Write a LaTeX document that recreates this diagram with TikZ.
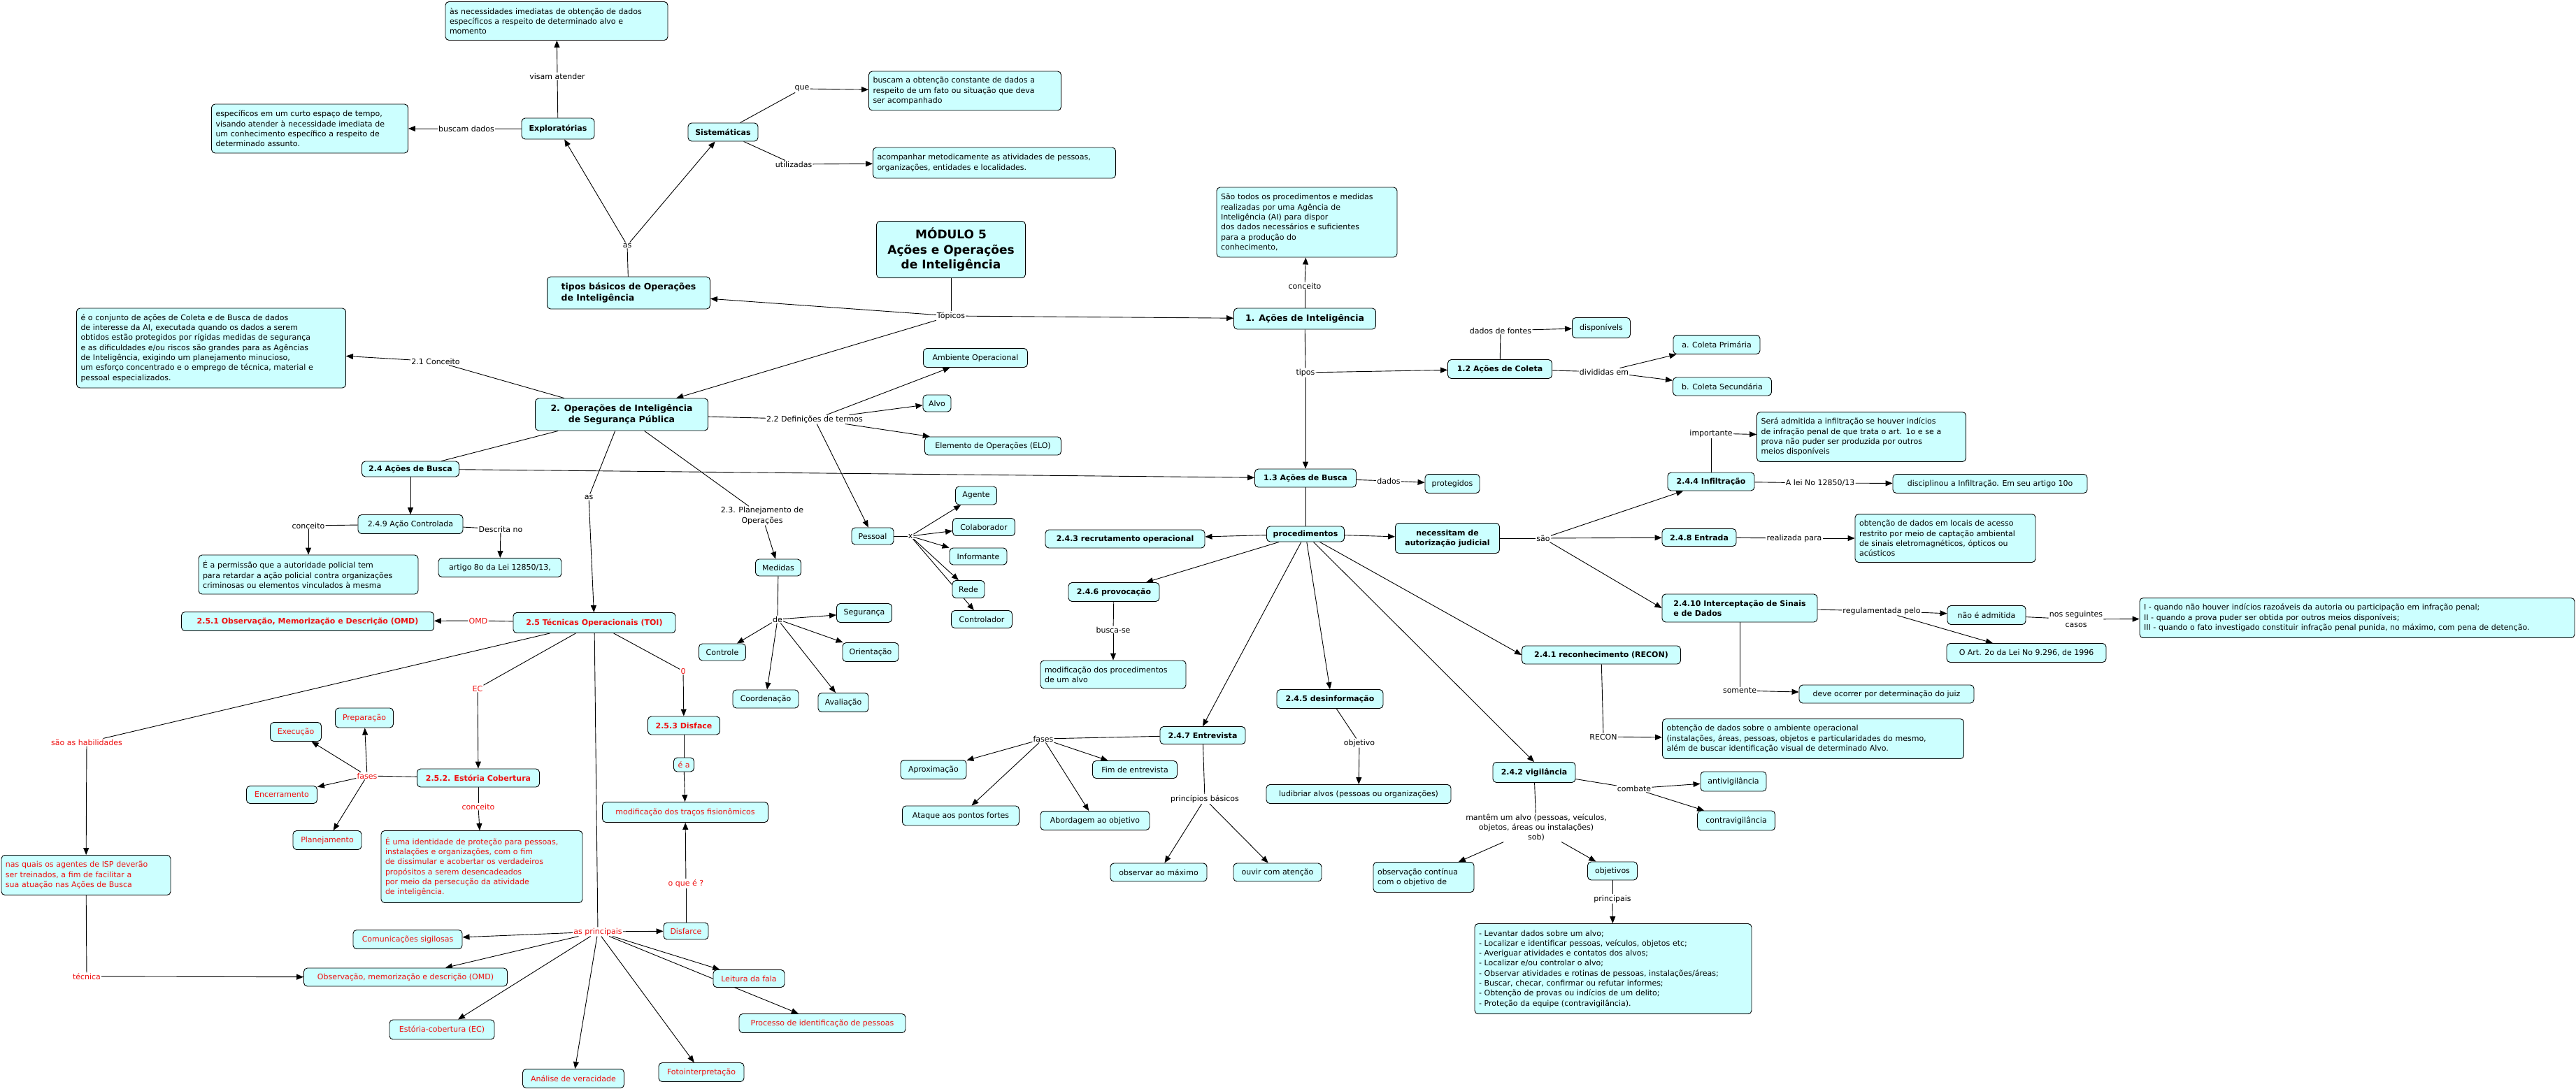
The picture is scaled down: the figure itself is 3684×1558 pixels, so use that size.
\documentclass[tikz,border=0pt]{standalone}
\usepackage{fontspec}
\setmainfont{DejaVu Sans}
\usepackage{xcolor}
\usepackage{tikz}
\usetikzlibrary{arrows.meta,positioning,backgrounds}
\definecolor{nodefill}{HTML}{CCFFFF}
\definecolor{redtxt}{HTML}{EE1111}
\newcommand{\fsn}{\fontsize{11}{14.3}\selectfont}
\newcommand{\fsb}{\fontsize{11}{14}\selectfont\bfseries}
\newcommand{\fsbig}{\fontsize{12.5}{15.5}\selectfont\bfseries}
\newcommand{\fstitle}{\fontsize{17}{21.5}\selectfont\bfseries}

\begin{document}
\begin{tikzpicture}[
  x=1pt, y=-1pt,
  box/.style={draw, rounded corners=5pt, fill=nodefill, line width=0.9pt, inner xsep=6pt, inner ysep=3pt, font=\fsn, align=left},
  bbox/.style={box, font=\fsb},
  bigbox/.style={box, font=\fsbig},
  ttl/.style={box, font=\fstitle, align=center},
  rbox/.style={box, text=redtxt},
  rbbox/.style={bbox, text=redtxt},
  lbl/.style={fill=white, inner sep=1pt, font=\fsn, align=center},
  rlbl/.style={lbl, text=redtxt},
  arr/.style={-{Triangle[length=10pt,width=8pt]}, line width=0.9pt},
  ln/.style={line width=0.9pt}
]
  \useasboundingbox (0,0) rectangle (3684,1558);

  \node[ttl, minimum width=213pt, minimum height=81pt] (mod) at (1360,357) {MÓDULO 5\\Ações e Operações\\de Inteligência};
  \node[lbl] (top) at (1360,452) {Tópicos};

  \node[bigbox, minimum width=233pt, minimum height=46pt] (tb) at (899,419) {tipos básicos de Operações\\de Inteligência};
  \node[lbl] (as1) at (897,351) {as};
  \node[bbox, minimum width=104pt, minimum height=30pt] (exp) at (798,184) {Exploratórias};
  \node[lbl] (visam) at (797,109) {visam atender};
  \node[box, text width=306pt, minimum height=55pt] (need) at (796,30) {às necessidades imediatas de obtenção de dados\\específicos a respeito de determinado alvo e\\momento};
  \node[lbl] (bdados) at (667,184) {buscam dados};
  \node[box, text width=269pt, minimum height=70pt] (curto) at (443,184) {específicos em um curto espaço de tempo,\\visando atender à necessidade imediata de\\um conhecimento específico a respeito de\\determinado assunto.};
  \node[bbox, minimum width=100pt, minimum height=26pt] (sis) at (1034,189) {Sistemáticas};
  \node[lbl] (que) at (1147,127) {que};
  \node[box, text width=263pt, minimum height=56pt] (const) at (1380,130) {buscam a obtenção constante de dados a\\ respeito de um fato ou situação que deva\\ser acompanhado};
  \node[lbl] (util) at (1135,235) {utilizadas};
  \node[box, text width=335pt, minimum height=44pt] (metod) at (1422,233) {acompanhar metodicamente as atividades de pessoas,\\ organizações, entidades e localidades.};

  \node[bigbox, minimum width=203pt, minimum height=30pt] (ai1) at (1866,456) {1. Ações de Inteligência};
  \node[lbl] (conc1) at (1866,409) {conceito};
  \node[box, text width=246pt, minimum height=100pt] (todos) at (1869,318) {São todos os procedimentos e medidas\\realizadas por uma Agência de\\ Inteligência (AI) para dispor\\dos dados necessários e suficientes\\para a produção do\\conhecimento,};
  \node[lbl] (tipos) at (1867,533) {tipos};
  \node[bbox, minimum width=149pt, minimum height=27pt] (ac12) at (2145,528) {1.2 Ações de Coleta};
  \node[lbl] (fontes) at (2146,473) {dados de fontes};
  \node[box, minimum width=83pt, minimum height=29pt] (disp) at (2290,469) {disponívels};
  \node[lbl] (divid) at (2294,532) {divididas em};
  \node[box, minimum width=124pt, minimum height=27pt] (prim) at (2455,493) {a. Coleta Primária};
  \node[box, minimum width=141pt, minimum height=26pt] (sec) at (2463,553) {b. Coleta Secundária};
  \node[bbox, minimum width=145pt, minimum height=26pt] (ab13) at (1867,684) {1.3 Ações de Busca};
  \node[lbl] (dados) at (1986,688) {dados};
  \node[box, minimum width=78pt, minimum height=27pt] (prot) at (2077,692) {protegidos};
  \node[bbox, minimum width=111pt, minimum height=22pt] (proc) at (1867,764) {procedimentos};
  \node[bbox, minimum width=149pt, minimum height=43pt, align=center] (nec) at (2070,770) {necessitam de\\autorização judicial};
  \node[lbl] (sao) at (2207,770) {são};
  \node[bbox, minimum width=124pt, minimum height=26pt] (inf) at (2447,689) {2.4.4 Infiltração};
  \node[lbl] (imp) at (2447,620) {importante};
  \node[box, text width=287pt, minimum height=71pt] (sera) at (2662,625) {Será admitida a infiltração se houver indícios\\de infração penal de que trata o art. 1o e se a\\prova não puder ser produzida por outros\\meios disponíveis};
  \node[lbl] (lei) at (2603,691) {A lei No 12850/13};
  \node[box, minimum width=278pt, minimum height=27pt] (disc) at (2846,692) {disciplinou a Infiltração. Em seu artigo 10o};
  \node[bbox, minimum width=106pt, minimum height=25pt] (ent) at (2430,769) {2.4.8 Entrada};
  \node[lbl] (realiz) at (2566,770) {realizada para};
  \node[box, text width=246pt, minimum height=69pt] (capt) at (2782,770) {obtenção de dados em locais de acesso\\restrito por meio de captação ambiental\\de sinais eletromagnéticos, ópticos ou\\ acústicos};
  \node[bbox, minimum width=222pt, minimum height=40pt] (icp) at (2488,870) {2.4.10 Interceptação de Sinais\\e de Dados};
  \node[lbl] (regul) at (2691,874) {regulamentada pelo};
  \node[box, minimum width=112pt, minimum height=27pt] (nadm) at (2841,880) {não é admitida};
  \node[lbl] (casos) at (2969,886) {nos seguintes\\casos};
  \node[box, text width=610pt, minimum height=57pt] (incisos) at (3371,884) {I - quando não houver indícios razoáveis da autoria ou participação em infração penal;\\II - quando a prova puder ser obtida por outros meios disponíveis;\\III - quando o fato investigado constituir infração penal punida, no máximo, com pena de detenção.};
  \node[box, minimum width=228pt, minimum height=27pt] (art2) at (2898,934) {O Art. 2o da Lei No 9.296, de 1996};
  \node[lbl] (som) at (2488,988) {somente};
  \node[box, minimum width=250pt, minimum height=26pt] (juiz) at (2698,993) {deve ocorrer por determinação do juiz};
  \node[bbox, minimum width=227pt, minimum height=26pt] (recon) at (2290,937) {2.4.1 reconhecimento (RECON)};
  \node[lbl] (lrecon) at (2293,1054) {RECON};
  \node[box, text width=419pt, minimum height=57pt] (amb) at (2593,1057) {obtenção de dados sobre o ambiente operacional\\ (instalações, áreas, pessoas, objetos e particularidades do mesmo,\\além de buscar identificação visual de determinado Alvo.};
  \node[bbox, minimum width=152pt, minimum height=27pt] (desinf) at (1902,1000) {2.4.5 desinformação};
  \node[lbl] (objt) at (1944,1063) {objetivo};
  \node[box, minimum width=264pt, minimum height=27pt] (ludib) at (1943,1136) {ludibriar alvos (pessoas ou organizações)};
  \node[bbox, minimum width=118pt, minimum height=29pt] (vig) at (2194,1105) {2.4.2 vigilância};
  \node[lbl] (comb) at (2337,1128) {combate};
  \node[box, minimum width=94pt, minimum height=28pt] (antiv) at (2479,1118) {antivigilância};
  \node[box, minimum width=111pt, minimum height=28pt] (contrav) at (2483,1174) {contravigilância};
  \node[lbl] (mant) at (2197,1184) {mantêm um alvo (pessoas, veículos,\\objetos, áreas ou instalações)\\sob)};
  \node[box, text width=132pt, minimum height=43pt] (obsc) at (2036,1255) {observação contínua\\com o objetivo de};
  \node[box, minimum width=71pt, minimum height=26pt] (objs) at (2306,1246) {objetivos};
  \node[lbl] (princ) at (2306,1286) {principais};
  \node[box, text width=384pt, minimum height=129pt] (lista) at (2307,1386) {- Levantar dados sobre um alvo;\\- Localizar e identificar pessoas, veículos, objetos etc;\\- Averiguar atividades e contatos dos alvos;\\- Localizar e/ou controlar o alvo;\\- Observar atividades e rotinas de pessoas, instalações/áreas;\\- Buscar, checar, confirmar ou refutar informes;\\- Obtenção de provas ou indícios de um delito;\\- Proteção da equipe (contravigilância).};
  \node[bbox, minimum width=122pt, minimum height=25pt] (entr) at (1720,1052) {2.4.7 Entrevista};
  \node[lbl] (fas1) at (1492,1057) {fases};
  \node[box, minimum width=94pt, minimum height=27pt] (aprox) at (1335,1101) {Aproximação};
  \node[box, minimum width=121pt, minimum height=25pt] (fim) at (1623,1101) {Fim de entrevista};
  \node[box, minimum width=167pt, minimum height=28pt] (ataq) at (1374,1167) {Ataque aos pontos fortes};
  \node[box, minimum width=156pt, minimum height=27pt] (abord) at (1566,1174) {Abordagem ao objetivo};
  \node[lbl] (pb) at (1723,1143) {princípios básicos};
  \node[box, minimum width=138pt, minimum height=26pt] (obsmax) at (1657,1248) {observar ao máximo};
  \node[box, minimum width=126pt, minimum height=26pt] (ouvir) at (1827,1248) {ouvir com atenção};
  \node[bbox, minimum width=228pt, minimum height=26pt] (recr) at (1609,771) {2.4.3 recrutamento operacional};
  \node[bbox, minimum width=130pt, minimum height=27pt] (prov) at (1593,847) {2.4.6 provocação};
  \node[lbl] (bsc) at (1592,901) {busca-se};
  \node[box, text width=196pt, minimum height=40pt] (modp) at (1592,965) {modificação dos procedimentos\\de um alvo};

  \node[bigbox, minimum width=247pt, minimum height=46pt, align=center] (op2) at (889,593) {2. Operações de Inteligência\\de Segurança Pública};
  \node[lbl] (c21) at (623,517) {2.1 Conceito};
  \node[box, text width=373pt, minimum height=114pt] (conj) at (302,498) {é o conjunto de ações de Coleta e de Busca de dados\\de interesse da AI, executada quando os dados a serem\\ obtidos estão protegidos  por rígidas medidas de segurança\\e as dificuldades e/ou riscos  são grandes para as Agências\\de Inteligência, exigindo um planejamento minucioso,\\um esforço concentrado e o emprego de técnica, material e\\ pessoal especializados.};
  \node[lbl] (def) at (1165,600) {2.2 Definições de termos};
  \node[box, minimum width=149pt, minimum height=27pt] (ambop) at (1395,512) {Ambiente Operacional};
  \node[box, minimum width=40pt, minimum height=24pt] (alvo) at (1340,577) {Alvo};
  \node[box, minimum width=195pt, minimum height=26pt] (elo) at (1420,638) {Elemento de Operações (ELO)};
  \node[box, minimum width=60pt, minimum height=24pt] (pes) at (1248,767) {Pessoal};
  \node[lbl] (lx) at (1302,767) {x};
  \node[box, minimum width=59pt, minimum height=26pt] (agen) at (1396,709) {Agente};
  \node[box, minimum width=89pt, minimum height=25pt] (colab) at (1407,754) {Colaborador};
  \node[box, minimum width=82pt, minimum height=24pt] (infor) at (1399,796) {Informante};
  \node[box, minimum width=46pt, minimum height=25pt] (rede) at (1385,843) {Rede};
  \node[box, minimum width=87pt, minimum height=25pt] (contr) at (1404,886) {Controlador};
  \node[lbl] (plan) at (1090,738) {2.3. Planejamento de\\Operações};
  \node[box, minimum width=65pt, minimum height=24pt] (med) at (1113,812) {Medidas};
  \node[lbl] (lde) at (1112,886) {de};
  \node[box, minimum width=79pt, minimum height=27pt] (seg) at (1236,877) {Segurança};
  \node[box, minimum width=67pt, minimum height=24pt] (ctl) at (1033,933) {Controle};
  \node[box, minimum width=80pt, minimum height=27pt] (ori) at (1245,933) {Orientação};
  \node[box, minimum width=94pt, minimum height=26pt] (coord) at (1095,1000) {Coordenação};
  \node[box, minimum width=72pt, minimum height=27pt] (aval) at (1206,1005) {Avaliação};

  \node[bbox, minimum width=139pt, minimum height=22pt] (ab24) at (587,671) {2.4 Ações de Busca};
  \node[box, minimum width=150pt, minimum height=27pt] (ctrl) at (587,750) {2.4.9 Ação Controlada};
  \node[lbl] (conc2) at (441,752) {conceito};
  \node[box, text width=302pt, minimum height=56pt] (perm) at (441,822) {É a permissão que a autoridade policial tem\\para retardar a ação policial contra organizações\\criminosas ou elementos vinculados à mesma};
  \node[lbl] (desc) at (716,757) {Descrita no};
  \node[box, minimum width=176pt, minimum height=27pt] (art8) at (715,812) {artigo 8o da Lei 12850/13,};

  \node[lbl] (as2) at (842,711) {as};
  \node[rbbox, minimum width=232pt, minimum height=29pt] (toi) at (850,891) {2.5 Técnicas Operacionais (TOI)};
  \node[rlbl] (lomd) at (684,888) {OMD};
  \node[rbbox, minimum width=361pt, minimum height=27pt] (omd1) at (440,889) {2.5.1 Observação, Memorização e Descrição (OMD)};
  \node[rlbl] (hab) at (124,1062) {são as habilidades};
  \node[rbox, text width=230pt, minimum height=57pt] (quais) at (123,1252) {nas quais os agentes de ISP deverão\\ser treinados, a fim de facilitar a\\sua atuação nas Ações de Busca};
  \node[rlbl] (tec) at (124,1397) {técnica};
  \node[rbox, minimum width=291pt, minimum height=26pt] (omd2) at (580,1398) {Observação, memorização e descrição (OMD)};
  \node[rlbl] (lec) at (683,985) {EC};
  \node[rbbox, minimum width=175pt, minimum height=26pt] (est) at (684,1113) {2.5.2. Estória Cobertura};
  \node[rlbl] (fas2) at (525,1110) {fases};
  \node[rbox, minimum width=73pt, minimum height=27pt] (exec) at (423,1047) {Execução};
  \node[rbox, minimum width=83pt, minimum height=28pt] (prep) at (521,1027) {Preparação};
  \node[rbox, minimum width=101pt, minimum height=25pt] (encer) at (403,1137) {Encerramento};
  \node[rbox, minimum width=98pt, minimum height=27pt] (planj) at (468,1202) {Planejamento};
  \node[rlbl] (conc3) at (684,1154) {conceito};
  \node[rbox, text width=276pt, minimum height=103pt] (ident) at (689,1240) {É uma identidade de proteção para pessoas,\\instalações e organizações, com o fim\\de dissimular e acobertar os verdadeiros\\propósitos a serem desencadeados\\por meio da persecução da atividade\\de inteligência.};
  \node[rlbl] (l0) at (977,960) {0};
  \node[rbbox, minimum width=103pt, minimum height=26pt] (disf) at (978,1038) {2.5.3 Disface};
  \node[rbox, minimum width=29pt, minimum height=20pt, inner xsep=3pt] (ea) at (978,1094) {é a};
  \node[rbox, minimum width=237pt, minimum height=29pt] (tracos) at (980,1162) {modificação dos traços fisionômicos};
  \node[rlbl] (oque) at (981,1264) {o que é ?};
  \node[rbox, minimum width=64pt, minimum height=24pt] (disfc) at (981,1332) {Disfarce};
  \node[rlbl] (princ2) at (855,1333) {as principais};
  \node[rbox, minimum width=156pt, minimum height=27pt] (comun) at (583,1344) {Comunicações sigilosas};
  \node[rbox, minimum width=150pt, minimum height=28pt] (ec) at (632,1473) {Estória-cobertura (EC)};
  \node[rbox, minimum width=145pt, minimum height=27pt] (anal) at (820,1543) {Análise de veracidade};
  \node[rbox, minimum width=122pt, minimum height=27pt] (foto) at (1003,1534) {Fotointerpretação};
  \node[rbox, minimum width=238pt, minimum height=27pt] (ident2) at (1176,1464) {Processo de identificação de pessoas};
  \node[rbox, minimum width=102pt, minimum height=25pt] (leit) at (1071,1400) {Leitura da fala};

  \begin{scope}[on background layer]
  \fill[white] (0,0) rectangle (3684,1558);
  \draw[ln] (mod) -- (top);
  \draw[arr] (top) -- (tb);
  \draw[arr] (top) -- (op2);
  \draw[arr] (top) -- (ai1);
  \draw[ln] (tb) -- (as1);
  \draw[arr] (as1) -- (exp);
  \draw[arr] (as1) -- (sis);
  \draw[ln] (exp) -- (visam);
  \draw[arr] (visam) -- (need);
  \draw[ln] (exp) -- (bdados);
  \draw[arr] (bdados) -- (curto);
  \draw[ln] (sis) -- (que);
  \draw[arr] (que) -- (const);
  \draw[ln] (sis) -- (util);
  \draw[arr] (util) -- (metod);

  \draw[ln] (ai1) -- (conc1);
  \draw[arr] (conc1) -- (todos);
  \draw[ln] (ai1) -- (tipos);
  \draw[arr] (tipos) -- (ac12);
  \draw[arr] (tipos) -- (ab13);
  \draw[ln] (ac12) -- (fontes);
  \draw[arr] (fontes) -- (disp);
  \draw[ln] (ac12) -- (divid);
  \draw[arr] (divid) -- (prim);
  \draw[arr] (divid) -- (sec);
  \draw[ln] (ab13) -- (dados);
  \draw[arr] (dados) -- (prot);
  \draw[ln] (ab13) -- (proc);
  \draw[arr] (proc) -- (nec);
  \draw[arr] (proc) -- (recr);
  \draw[arr] (proc) -- (prov);
  \draw[arr] (proc) -- (entr.north);
  \draw[arr] (proc) -- (desinf.north);
  \draw[arr] (proc) -- (vig.north);
  \draw[arr] (proc) -- (recon.west);
  \draw[ln] (nec) -- (sao);
  \draw[arr] (sao) -- (inf);
  \draw[arr] (sao) -- (ent);
  \draw[arr] (sao) -- (icp.west);
  \draw[ln] (inf) -- (imp);
  \draw[arr] (imp) -- (sera);
  \draw[ln] (inf) -- (lei);
  \draw[arr] (lei) -- (disc);
  \draw[ln] (ent) -- (realiz);
  \draw[arr] (realiz) -- (capt);
  \draw[ln] (icp) -- (regul);
  \draw[arr] (regul) -- (nadm);
  \draw[arr] (regul) -- (art2);
  \draw[ln] (nadm) -- (casos);
  \draw[arr] (casos) -- (incisos);
  \draw[ln] (icp) -- (som);
  \draw[arr] (som) -- (juiz);
  \draw[ln] (recon) -- (lrecon);
  \draw[arr] (lrecon) -- (amb);
  \draw[ln] (desinf) -- (objt);
  \draw[arr] (objt) -- (ludib);
  \draw[ln] (vig) -- (comb);
  \draw[arr] (comb) -- (antiv);
  \draw[arr] (comb) -- (contrav);
  \draw[ln] (vig) -- (mant);
  \draw[arr] (mant) -- (obsc);
  \draw[arr] (mant) -- (objs);
  \draw[ln] (objs) -- (princ);
  \draw[arr] (princ) -- (lista);
  \draw[ln] (prov) -- (bsc);
  \draw[arr] (bsc) -- (modp);
  \draw[ln] (entr) -- (fas1);
  \draw[arr] (fas1) -- (aprox);
  \draw[arr] (fas1) -- (fim);
  \draw[arr] (fas1) -- (ataq);
  \draw[arr] (fas1) -- (abord);
  \draw[ln] (entr) -- (pb);
  \draw[arr] (pb) -- (obsmax);
  \draw[arr] (pb) -- (ouvir);

  \draw[ln] (op2) -- (c21);
  \draw[arr] (c21) -- (conj);
  \draw[ln] (op2) -- (def);
  \draw[arr] (def) -- (ambop);
  \draw[arr] (def) -- (alvo);
  \draw[arr] (def) -- (elo);
  \draw[arr] (def) -- (pes);
  \draw[ln] (pes) -- (lx);
  \draw[arr] (lx) -- (agen);
  \draw[arr] (lx) -- (colab);
  \draw[arr] (lx) -- (infor);
  \draw[arr] (lx) -- (rede);
  \draw[arr] (lx) -- (contr);
  \draw[ln] (op2) -- (plan);
  \draw[arr] (plan) -- (med);
  \draw[ln] (med) -- (lde);
  \draw[arr] (lde) -- (seg);
  \draw[arr] (lde) -- (ctl);
  \draw[arr] (lde) -- (ori);
  \draw[arr] (lde) -- (coord);
  \draw[arr] (lde) -- (aval);
  \draw[ln] (op2) -- (ab24);
  \draw[arr] (ab24) -- (ab13);
  \draw[arr] (ab24) -- (ctrl);
  \draw[ln] (ctrl) -- (conc2);
  \draw[arr] (conc2) -- (perm);
  \draw[ln] (ctrl) -- (desc);
  \draw[arr] (desc) -- (art8);
  \draw[ln] (op2) -- (as2);
  \draw[arr] (as2) -- (toi);

  \draw[ln] (toi) -- (lomd);
  \draw[arr] (lomd) -- (omd1);
  \draw[ln] (toi) -- (hab);
  \draw[arr] (hab) -- (quais);
  \draw[ln] (quais) -- (tec);
  \draw[arr] (tec) -- (omd2);
  \draw[ln] (toi) -- (lec);
  \draw[arr] (lec) -- (est);
  \draw[ln] (est) -- (fas2);
  \draw[arr] (fas2) -- (exec);
  \draw[arr] (fas2) -- (prep);
  \draw[arr] (fas2) -- (encer);
  \draw[arr] (fas2) -- (planj);
  \draw[ln] (est) -- (conc3);
  \draw[arr] (conc3) -- (ident);
  \draw[ln] (toi) -- (l0);
  \draw[arr] (l0) -- (disf);
  \draw[ln] (disf) -- (ea);
  \draw[arr] (ea) -- (tracos);
  \draw[ln] (disfc) -- (oque);
  \draw[arr] (oque) -- (tracos);
  \draw[ln] (toi) -- (princ2);
  \draw[arr] (princ2) -- (comun);
  \draw[arr] (princ2) -- (disfc);
  \draw[arr] (princ2) -- (omd2);
  \draw[arr] (princ2) -- (ec);
  \draw[arr] (princ2) -- (anal);
  \draw[arr] (princ2) -- (foto);
  \draw[arr] (princ2) -- (ident2);
  \draw[arr] (princ2) -- (leit);
  \end{scope}
\end{tikzpicture}
\end{document}
